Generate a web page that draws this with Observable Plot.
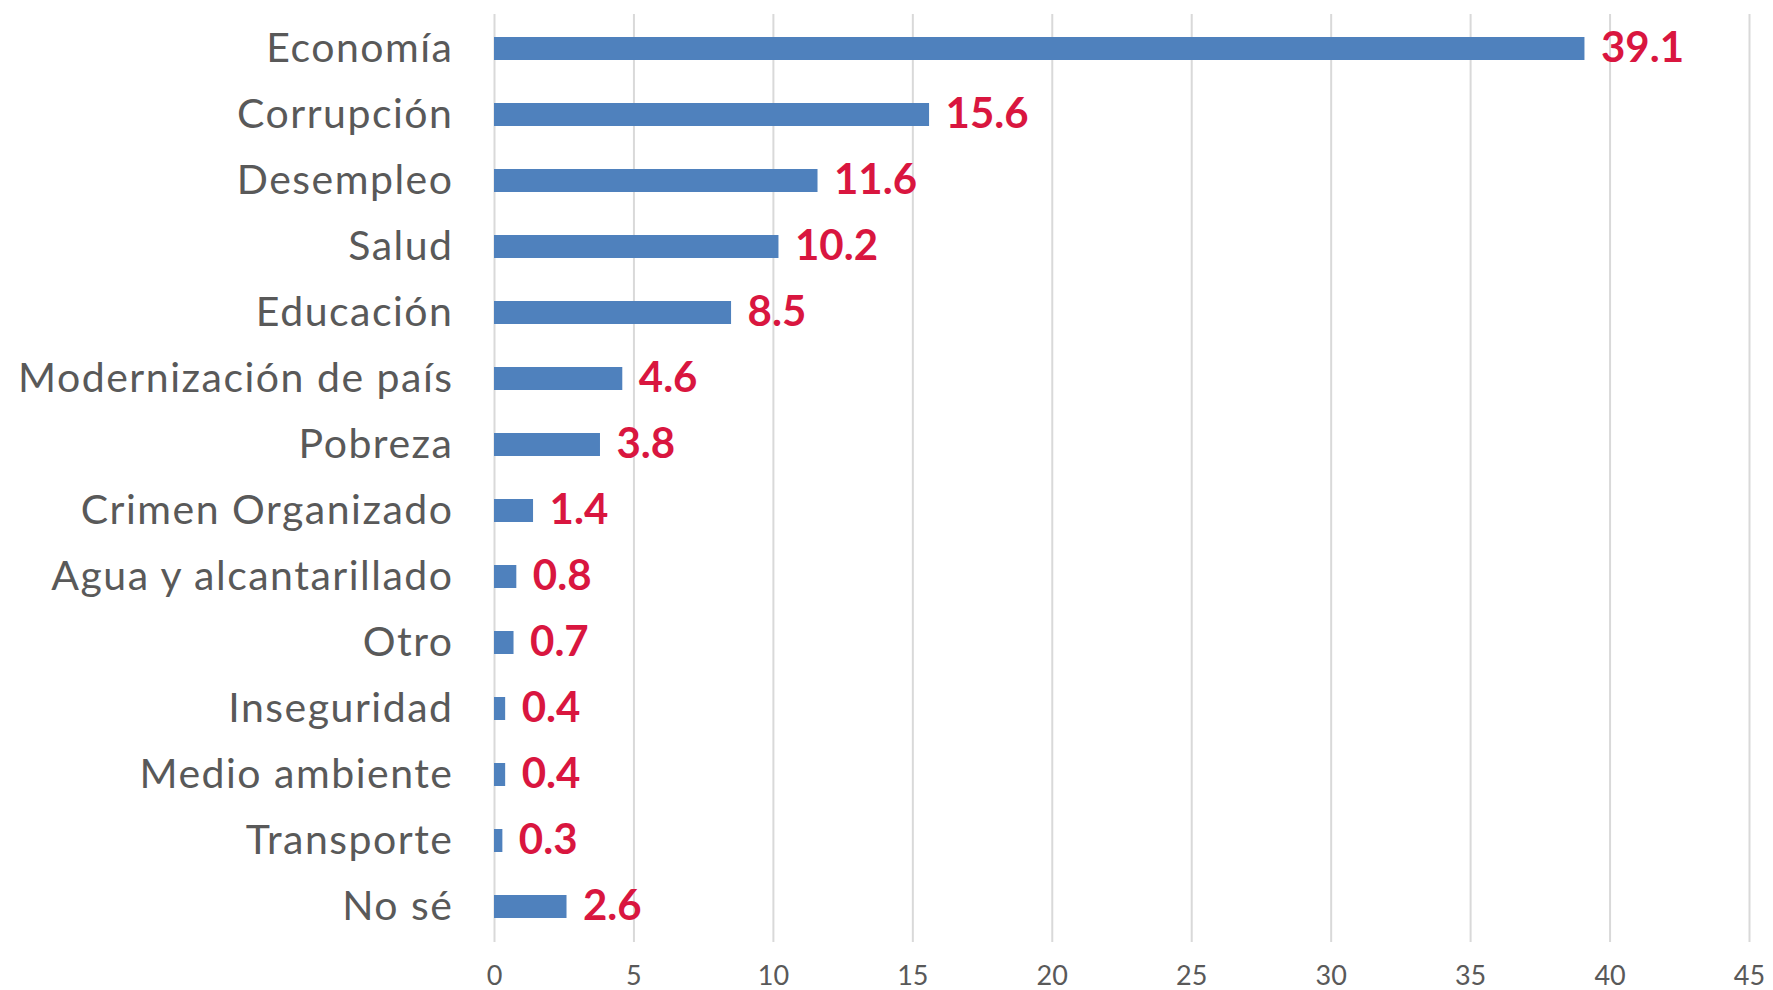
<!DOCTYPE html>
<html>
<head>
<meta charset="utf-8">
<script src="https://cdn.jsdelivr.net/npm/d3@7"></script>
<script src="https://cdn.jsdelivr.net/npm/@observablehq/plot@0.6"></script>
<style>
  html, body { margin: 0; padding: 0; background: #ffffff; }
  #chart { width: 1773px; height: 990px; }
  #chart g[aria-label="y-axis tick label"] text { letter-spacing: 1.5px; }
</style>
</head>
<body>
<div id="chart"></div>
<script>
const categories = [
  "Economía", "Corrupción", "Desempleo", "Salud", "Educación",
  "Modernización de país", "Pobreza", "Crimen Organizado",
  "Agua y alcantarillado", "Otro", "Inseguridad", "Medio ambiente",
  "Transporte", "No sé"
];
const values = [39.1, 15.6, 11.6, 10.2, 8.5, 4.6, 3.8, 1.4, 0.8, 0.7, 0.4, 0.4, 0.3, 2.6];
const xTicks = [0, 5, 10, 15, 20, 25, 30, 35, 40, 45];

const data = categories.map((c, i) => ({category: c, value: values[i]}));

const chart = Plot.plot({
  width: 1773,
  height: 990,
  marginLeft: 494,
  marginRight: 24,
  marginTop: 14,
  marginBottom: 48,
  style: {fontFamily: "Lato, 'Noto Sans', sans-serif", background: "#ffffff"},
  x: {domain: [0, 45], ticks: xTicks},
  y: {domain: categories, paddingInner: 0.65, paddingOuter: 0.3},
  marks: [
    Plot.gridX(xTicks, {stroke: "#d9d9d9", strokeOpacity: 1, strokeWidth: 2}),
    Plot.barX(data, {y: "category", x: "value", fill: "#4f81bd"}),
    Plot.text(data, {
      y: "category", x: "value", text: d => d.value.toFixed(1),
      textAnchor: "start", dx: 16, fill: "#d9163f",
      fontSize: 42, fontWeight: "bold"
    }),
    Plot.axisY({tickSize: 0, tickPadding: 41, fontSize: 41, color: "#595959", label: null}),
    Plot.axisX(xTicks, {tickSize: 0, tickPadding: 23, fontSize: 27, color: "#595959", label: null})
  ]
});
document.getElementById("chart").appendChild(chart);
</script>
</body>
</html>
